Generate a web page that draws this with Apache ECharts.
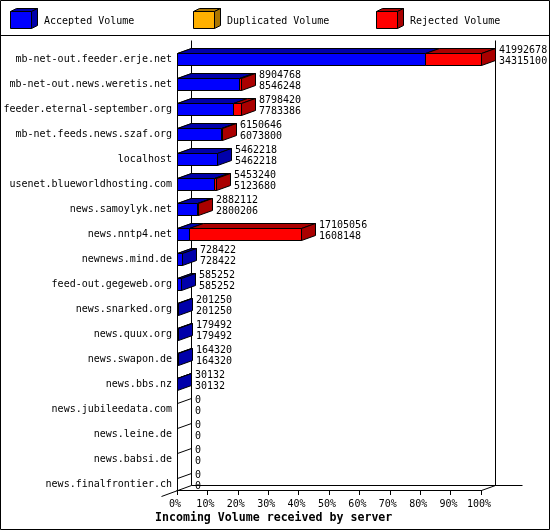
<!DOCTYPE html>
<html><head><meta charset="utf-8">
<style>html,body{margin:0;padding:0;background:#fff}#c{width:550px;height:530px}</style>
<script src="https://cdn.jsdelivr.net/npm/echarts@6/dist/echarts.min.js"></script>
</head><body><div id="c"></div>
<script>
const servers = ["mb-net-out.feeder.erje.net","mb-net-out.news.weretis.net","feeder.eternal-september.org","mb-net.feeds.news.szaf.org","localhost","usenet.blueworldhosting.com","news.samoylyk.net","news.nntp4.net","newnews.mind.de","feed-out.gegeweb.org","news.snarked.org","news.quux.org","news.swapon.de","news.bbs.nz","news.jubileedata.com","news.leine.de","news.babsi.de","news.finalfrontier.ch"];
const totalVolume = [41992678,8904768,8798420,6150646,5462218,5453240,2882112,17105056,728422,585252,201250,179492,164320,30132,0,0,0,0];
const acceptedVolume = [34315100,8546248,7783386,6073800,5462218,5123680,2800206,1608148,728422,585252,201250,179492,164320,30132,0,0,0,0];
const duplicatedVolume = [0,0,0,0,0,0,0,0,0,0,0,0,0,0,0,0,0,0];
const rejectedVolume = [7677578,358520,1015034,76846,0,329560,81906,15496908,0,0,0,0,0,0,0,0,0,0];

const FONT = '"DejaVu Sans Mono","Liberation Mono",monospace';
const DX = 14, DY = 5;
const COLORS = {
  acc: ['#0000ff', '#0000aa'],
  dup: ['#ffb000', '#aa7500'],
  rej: ['#ff0000', '#aa0000']
};
const maxV = Math.max(...totalVolume);
const pct = v => v / maxV * 100;
const px = v => Math.round(v) + 0.5;
const LS = { stroke: '#000', lineWidth: 1 };

function segData(vals, later) {
  return vals.map((v, i) => {
    const before = vals === acceptedVolume ? 0 : acceptedVolume[i] + (vals === rejectedVolume ? duplicatedVolume[i] : 0);
    return [pct(before), pct(before + v), i, later[i] === 0 ? 1 : 0];
  });
}
function renderSeg(colors) {
  return function (params, api) {
    const s = api.value(0), e = api.value(1), row = api.value(2), last = api.value(3);
    if (e <= s) return { type: 'group', children: [] };
    const a = api.coord([s, row]), b = api.coord([e, row]);
    const x0 = px(a[0]), x1 = px(b[0]), y0 = px(a[1] - 7), y1 = px(a[1] + 5.5);
    const kids = [
      { type: 'polygon', shape: { points: [[x0, y0], [x0 + DX, y0 - DY], [x1 + DX, y0 - DY], [x1, y0]] }, style: { fill: colors[1], ...LS } },
      { type: 'rect', shape: { x: x0, y: y0, width: x1 - x0, height: y1 - y0 }, style: { fill: colors[0], ...LS } }
    ];
    if (last) kids.push({ type: 'polygon', shape: { points: [[x1, y0], [x1 + DX, y0 - DY], [x1 + DX, y1 - DY], [x1, y1]] }, style: { fill: colors[1], ...LS } });
    return { type: 'group', children: kids };
  };
}
function line(p, q) {
  return { type: 'line', shape: { x1: p[0], y1: p[1], x2: q[0], y2: q[1] }, style: LS };
}
function renderFrame(params, api) {
  const row = api.value(0);
  const a = api.coord([0, row]);
  const x0 = px(a[0]), yt = px(a[1] - 7);
  const kids = [line([x0, yt], [x0 + DX, yt - DY])];
  if (row === 0) {
    const z = api.coord([100, servers.length - 1]);
    const x1 = px(z[0]), yb = px(z[1] + 5.5);
    const top = yt - 13;
    kids.push(
      line([x0, yt], [x0, yb]),
      line([x0 + DX, top], [x0 + DX, yb - DY]),
      line([x1 + DX, top], [x1 + DX, yb - DY]),
      line([x0 + DX, yb - DY], [x1 + DX + 27, yb - DY]),
      line([x0 - 16, yb + 6], [x0 + DX, yb - DY]),
      line([x1, yb], [x1 + DX, yb - DY])
    );
  }
  return { type: 'group', children: kids };
}
function renderValues(params, api) {
  const row = api.value(0), total = api.value(1), acc = api.value(2);
  const a = api.coord([pct(total), row]);
  const x = Math.round(a[0]) + DX + 4;
  const t = (txt, y) => ({ type: 'text', style: { text: String(txt), x, y, fill: '#000', font: '10px ' + FONT, textAlign: 'left', textVerticalAlign: 'middle' } });
  return { type: 'group', children: [t(total, a[1] - 9), t(acc, a[1] + 2)] };
}
function cube(x, colors) {
  const l = x + .5, r = x + 21.5, t = 11.5, b = 28.5, d = 6, u = 3;
  return [
    { type: 'polygon', shape: { points: [[l, t], [l + d, t - u], [r + d, t - u], [r, t]] }, style: { fill: colors[1], ...LS } },
    { type: 'polygon', shape: { points: [[r, t], [r + d, t - u], [r + d, b - u], [r, b]] }, style: { fill: colors[1], ...LS } },
    { type: 'rect', shape: { x: l, y: t, width: r - l, height: b - t }, style: { fill: colors[0], ...LS } }
  ];
}
function legendText(x, s) {
  return { type: 'text', style: { text: s, x, y: 21, fill: '#000', font: '10px ' + FONT, textAlign: 'left', textVerticalAlign: 'middle' } };
}
const chart = echarts.init(document.getElementById('c'), null, { renderer: 'canvas' });
chart.setOption({
  animation: false,
  backgroundColor: '#fff',
  title: { text: 'Incoming Volume received by server', left: 155, top: 512, padding: 0,
    textStyle: { fontFamily: FONT, fontWeight: 'bold', fontSize: 11.6, color: '#000', lineHeight: 12 } },
  grid: { left: 177, top: 47, width: 304, height: 450 },
  xAxis: { type: 'value', min: 0, max: 100, interval: 10, offset: -7,
    axisLine: { show: true, onZero: false, lineStyle: { color: '#000', width: 1 } },
    axisTick: { show: true, length: 5, lineStyle: { color: '#000', width: 1 } },
    splitLine: { show: false },
    axisLabel: { show: true, margin: 9, padding: [0, 4, 0, 0], hideOverlap: false, color: '#000', fontFamily: FONT, fontSize: 10, formatter: '{value}%' } },
  yAxis: { type: 'category', inverse: true, data: servers,
    axisLine: { show: false }, axisTick: { show: false }, splitLine: { show: false },
    axisLabel: { interval: 0, margin: 5, padding: [4, 0, 0, 0], color: '#000', fontFamily: FONT, fontSize: 10 } },
  series: [
    { type: 'custom', name: 'frame', silent: true, clip: false, z: 1, renderItem: renderFrame, encode: { y: 0 }, data: servers.map((s, i) => [i]) },
    { type: 'custom', name: 'Accepted Volume', silent: true, clip: false, z: 2, renderItem: renderSeg(COLORS.acc), encode: { x: [0, 1], y: 2 },
      data: segData(acceptedVolume, rejectedVolume.map((v, i) => v + duplicatedVolume[i])) },
    { type: 'custom', name: 'Duplicated Volume', silent: true, clip: false, z: 2, renderItem: renderSeg(COLORS.dup), encode: { x: [0, 1], y: 2 },
      data: segData(duplicatedVolume, rejectedVolume) },
    { type: 'custom', name: 'Rejected Volume', silent: true, clip: false, z: 2, renderItem: renderSeg(COLORS.rej), encode: { x: [0, 1], y: 2 },
      data: segData(rejectedVolume, rejectedVolume.map(() => 0)) },
    { type: 'custom', name: 'values', silent: true, clip: false, z: 3, renderItem: renderValues, encode: { y: 0 },
      data: servers.map((s, i) => [i, totalVolume[i], acceptedVolume[i]]) }
  ],
  graphic: [
    { type: 'rect', silent: true, z: 10, shape: { x: .5, y: .5, width: 549, height: 529 }, style: { fill: 'none', ...LS } },
    { type: 'line', silent: true, z: 10, shape: { x1: 0, y1: 35.5, x2: 550, y2: 35.5 }, style: LS },
    { type: 'group', silent: true, z: 10, children: [
      ...cube(10, COLORS.acc), legendText(44, 'Accepted Volume'),
      ...cube(193, COLORS.dup), legendText(227, 'Duplicated Volume'),
      ...cube(376, COLORS.rej), legendText(410, 'Rejected Volume')
    ] }
  ]
});
</script></body></html>
